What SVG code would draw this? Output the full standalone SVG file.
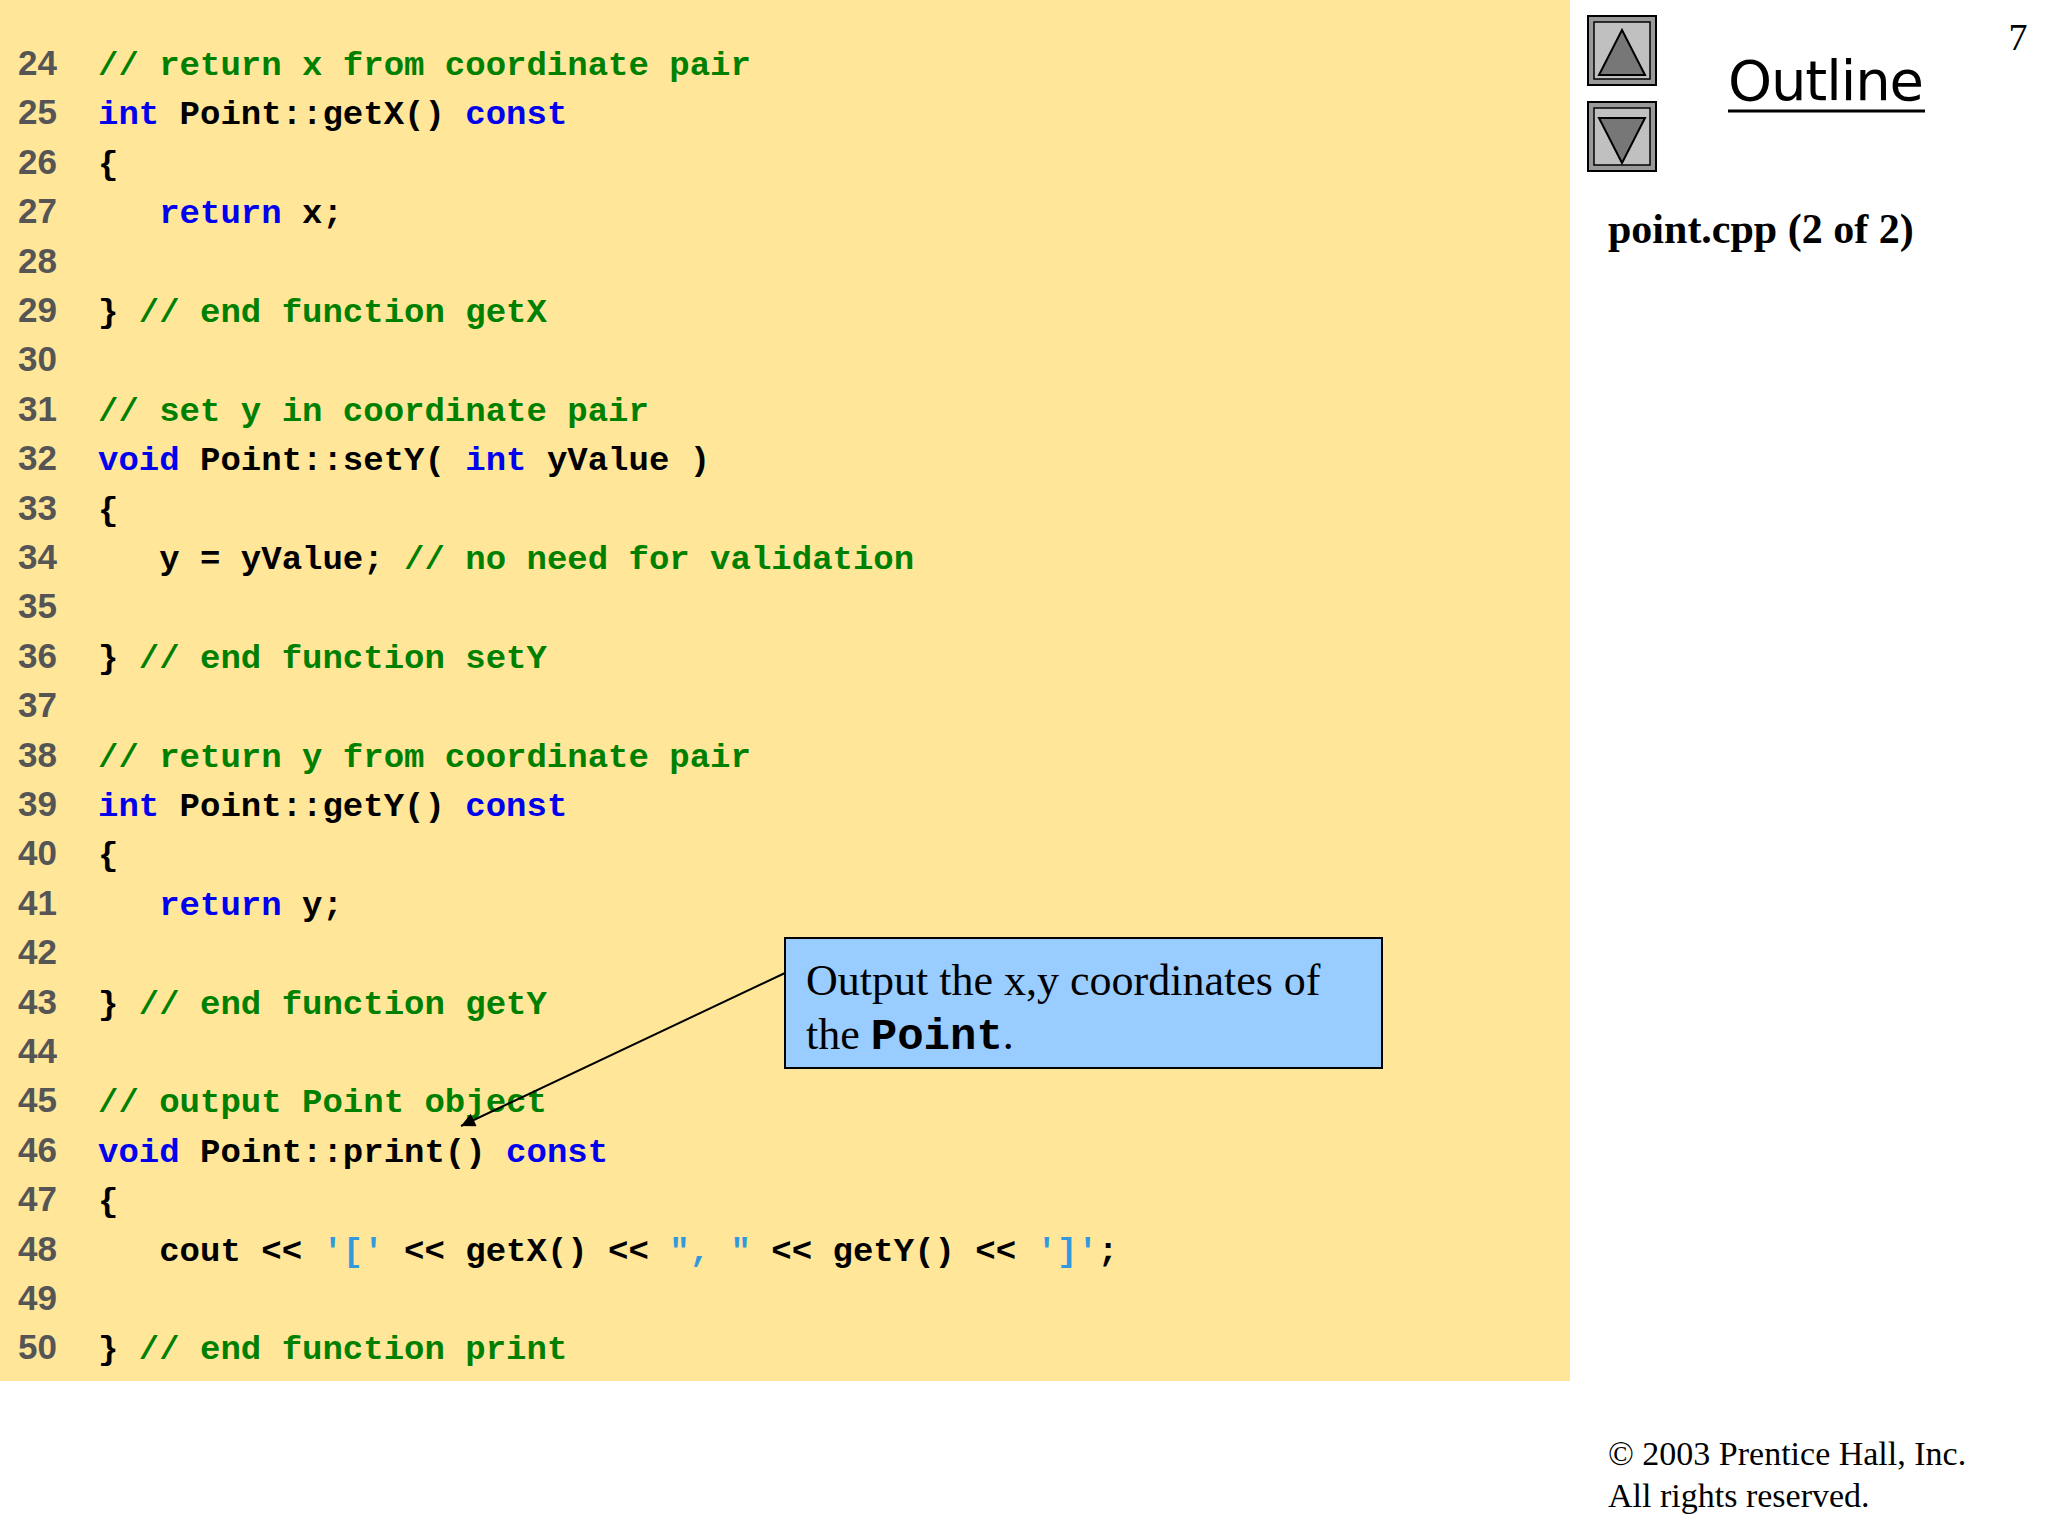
<svg xmlns="http://www.w3.org/2000/svg" width="2048" height="1536" viewBox="0 0 2048 1536">
<style>
.c{font-family:"Liberation Mono",monospace;font-weight:bold;font-size:34px;fill:#000;white-space:pre}
.n{font-family:"Liberation Sans Narrow","Liberation Sans",sans-serif;font-weight:bold;font-size:35px;fill:#555}
.k{fill:#0000EE}.g{fill:#008000}.s{fill:#3399DD}
.t{font-family:"Liberation Serif",serif}
</style>
<defs><marker id="ah" viewBox="0 0 10 10" refX="9" refY="5" markerWidth="10" markerHeight="10" orient="auto" markerUnits="userSpaceOnUse" ><path d="M0,0 L10,5 L0,10 z" fill="#000"/></marker>
<marker id="a2" viewBox="0 0 10 10" refX="10" refY="5" markerWidth="18" markerHeight="14" orient="auto" markerUnits="userSpaceOnUse"><path d="M0,0 L10,5 L0,10 z" fill="#000"/></marker></defs>
<rect width="2048" height="1536" fill="#fff"/>
<rect x="0" y="0" width="1570" height="1381" fill="#FFE699"/>
<g id="linenums">
<text class="n" x="18" y="75">24</text><text class="n" x="18" y="124">25</text><text class="n" x="18" y="174">26</text><text class="n" x="18" y="223">27</text><text class="n" x="18" y="273">28</text><text class="n" x="18" y="322">29</text><text class="n" x="18" y="371">30</text><text class="n" x="18" y="421">31</text><text class="n" x="18" y="470">32</text><text class="n" x="18" y="520">33</text><text class="n" x="18" y="569">34</text><text class="n" x="18" y="618">35</text><text class="n" x="18" y="668">36</text><text class="n" x="18" y="717">37</text><text class="n" x="18" y="767">38</text><text class="n" x="18" y="816">39</text><text class="n" x="18" y="865">40</text><text class="n" x="18" y="915">41</text><text class="n" x="18" y="964">42</text><text class="n" x="18" y="1014">43</text><text class="n" x="18" y="1063">44</text><text class="n" x="18" y="1112">45</text><text class="n" x="18" y="1162">46</text><text class="n" x="18" y="1211">47</text><text class="n" x="18" y="1261">48</text><text class="n" x="18" y="1310">49</text><text class="n" x="18" y="1359">50</text>
</g>
<g id="code">
<text class="c" x="98" y="75"><tspan class="g">// return x from coordinate pair</tspan></text>
<text class="c" x="98" y="124"><tspan class="k">int</tspan> Point::getX() <tspan class="k">const</tspan></text>
<text class="c" x="98" y="174">{</text>
<text class="c" x="98" y="223">   <tspan class="k">return</tspan> x;</text>
<text class="c" x="98" y="322">} <tspan class="g">// end function getX</tspan></text>
<text class="c" x="98" y="421"><tspan class="g">// set y in coordinate pair</tspan></text>
<text class="c" x="98" y="470"><tspan class="k">void</tspan> Point::setY( <tspan class="k">int</tspan> yValue )</text>
<text class="c" x="98" y="520">{</text>
<text class="c" x="98" y="569">   y = yValue; <tspan class="g">// no need for validation</tspan></text>
<text class="c" x="98" y="668">} <tspan class="g">// end function setY</tspan></text>
<text class="c" x="98" y="767"><tspan class="g">// return y from coordinate pair</tspan></text>
<text class="c" x="98" y="816"><tspan class="k">int</tspan> Point::getY() <tspan class="k">const</tspan></text>
<text class="c" x="98" y="865">{</text>
<text class="c" x="98" y="915">   <tspan class="k">return</tspan> y;</text>
<text class="c" x="98" y="1014">} <tspan class="g">// end function getY</tspan></text>
<text class="c" x="98" y="1112"><tspan class="g">// output Point object</tspan></text>
<text class="c" x="98" y="1162"><tspan class="k">void</tspan> Point::print() <tspan class="k">const</tspan></text>
<text class="c" x="98" y="1211">{</text>
<text class="c" x="98" y="1261">   cout &lt;&lt; <tspan class="s">'['</tspan> &lt;&lt; getX() &lt;&lt; <tspan class="s">", "</tspan> &lt;&lt; getY() &lt;&lt; <tspan class="s">']'</tspan>;</text>
<text class="c" x="98" y="1359">} <tspan class="g">// end function print</tspan></text>
</g>
<g id="connectors">
<line x1="785" y1="973" x2="461" y2="1126" stroke="#000" stroke-width="2" marker-end="url(#a2)"/>
</g>
<g id="callout">
<rect x="785" y="938" width="597" height="130" fill="#99CCFF" stroke="#000" stroke-width="2"/>
<text class="t" x="806" y="995" font-size="44">Output the x,y coordinates of</text>
<text class="t" x="806" y="1049" font-size="44">the <tspan font-family="Liberation Mono,monospace" font-weight="bold">Point</tspan>.</text>
</g>
<g id="nav-up">
<rect x="1588" y="16" width="68" height="69" fill="#999" stroke="#000" stroke-width="2"/>
<rect x="1594" y="22" width="56" height="57" fill="#C0C0C0" stroke="#000" stroke-width="1.5"/>
<polygon points="1622,30 1645,75 1599,75" fill="#777" stroke="#000" stroke-width="2"/>
</g>
<g id="nav-down">
<rect x="1588" y="102" width="68" height="69" fill="#999" stroke="#000" stroke-width="2"/>
<rect x="1594" y="108" width="56" height="57" fill="#C0C0C0" stroke="#000" stroke-width="1.5"/>
<polygon points="1599,118 1645,118 1622,163" fill="#777" stroke="#000" stroke-width="2"/>
</g>
<g id="header">
<text x="1826" y="100" font-family="DejaVu Sans,sans-serif" font-size="56" text-anchor="middle" textLength="196">Outline</text>
<line x1="1728" y1="111" x2="1925" y2="111" stroke="#000" stroke-width="3"/>
<text x="2018" y="50" class="t" font-size="38" text-anchor="middle">7</text>
<text x="1608" y="243" class="t" font-size="42" font-weight="bold">point.cpp (2 of 2)</text>
<text x="1608" y="1465" class="t" font-size="34">© 2003 Prentice Hall, Inc.</text>
<text x="1608" y="1507" class="t" font-size="34">All rights reserved.</text>
</g>
</svg>
